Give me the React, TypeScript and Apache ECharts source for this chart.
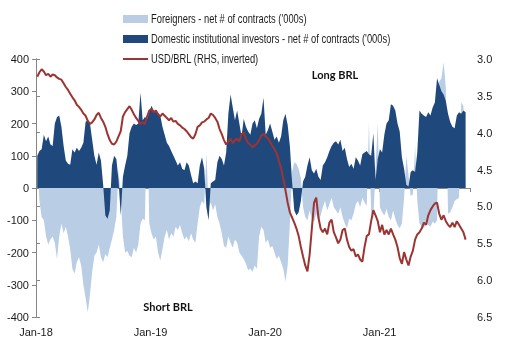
import React, { useEffect, useRef } from "react";
import * as echarts from "echarts";

// days since 1 Jan 2018 of the first weekly observation, and the weekly step
const firstDay = 4;
const stepDays = 7;
const yearLabels = ["Jan-18", "Jan-19", "Jan-20", "Jan-21"];

const seriesNames = [
  "Foreigners - net # of contracts ('000s)",
  "Domestic institutional investors - net # of contracts ('000s)",
  "USD/BRL (RHS, inverted)",
];

const foreigners = [
  100, -40, -90, -100, -150, -175, -160, -150, -170, -220,
  -150, -110, -140, -120, -150, -190, -250, -265, -230, -215,
  -240, -300, -340, -385, -330, -260, -210, -200, -175, -215,
  -230, -205, -215, -185, -160, -130, -90, 60, -30, -150,
  -200, -195, -210, -215, -185, -200, -175, -110, -95, -100,
  240, -110, -140, -160, -150, -200, -225, -190, -150, -130,
  -160, -140, -150, -120, -130, -115, -140, -160, -150, -165,
  -140, -160, -170, -110, -60, -40, -50, 110, -60, -45,
  -70, -50, -90, -110, -140, -180, -185, -150, -170, -185,
  -160, -170, -200, -210, -220, -235, -255, -250, -260, -240,
  -250, -150, -120, -130, -170, -160, -185, -180, -200, -220,
  -210, -230, -250, -290, -240, -110, 50, 80, 75, 60,
  30, -60, -90, -100, -70, -95, -105, -80, -100, -85,
  -60, -40, -70, -50, -30, -60, -70, -80, -60, -90,
  -110, -125, -95, -100, -80, -50, -40, -60, -30, -45,
  -55, 205, -80, -95, 60, 200, -60, -75, -85, -65,
  -90, -100, -70, -95, -115, -125, -110, -30, 100, 40,
  -25, -20, 130, -40, -110, -120, -125, -110, -115, -120,
  -105, -110, -100, 330, 340, 390, 310, -80, -75, -60,
  -40, -35, -30, 265, 255, -15,
];

const domestic = [
  100, 115, 120, 165, 145, 160, 135, 130, 200, 220,
  225, 190, 130, 85, 75, 72, 120, 110, 125, 115,
  125, 140, 205, 212, 200, 150, 100, 72, 110, 85,
  10, -85, -95, -70, 70, 100, 90, 25, -85, 35,
  70, 100, 170, 190, 200, 195, 200, 295, 210, 220,
  215, 235, 255, 240, 235, 230, 225, 190, 165, 140,
  130, 115, 100, 85, 70, 80, 60, 55, 80, 70,
  40, 15, 20, 15, 70, 95, 60, -60, -100, 15,
  20, 25, 80, 100, 90, 70, 110, 230, 290, 250,
  210, 240, 200, 160, 215, 190, 175, 165, 200, 210,
  185, 215, 230, 280, 165, 180, 200, 175, 150, 160,
  140, 160, 210, 230, 195, 130, 20, -70, -85, -75,
  -40, 20, 35, 70, 95, 55, 45, 60, 35, 25,
  70, 80, 95, 115, 130, 140, 145, 135, 150, 115,
  125, 90, 65, 75, 60, 95, 85, 70, 105, 110,
  115, 105, 100, 170, 25, 90, 120, 110, 165, 200,
  210, 260, 255, 240, 200, 175, 95, 60, 10, 5,
  50, 55, 50, 110, 240, 230, 225, 220, 235, 225,
  250, 265, 340, 320, 300, 290, 270, 230, 205, 190,
  185, 225, 235, 230, 240, 235,
];

const usdbrl = [
  3.24, 3.18, 3.14, 3.17, 3.22, 3.2, 3.24, 3.21, 3.22, 3.25,
  3.27, 3.28, 3.33, 3.38, 3.42, 3.47, 3.52, 3.56, 3.62, 3.65,
  3.69, 3.74, 3.77, 3.84, 3.88, 3.86, 3.82, 3.76, 3.73, 3.8,
  3.85, 3.92, 4.02, 4.1, 4.15, 4.16, 4.12, 4.05, 3.98, 3.78,
  3.72, 3.68, 3.64, 3.69, 3.75, 3.8, 3.84, 3.88, 3.86, 3.88,
  3.78, 3.7, 3.68, 3.72, 3.7, 3.75, 3.78, 3.74, 3.77, 3.8,
  3.83, 3.8, 3.85, 3.84, 3.88, 3.9, 3.93, 3.95, 3.98, 4.02,
  4.06, 4.08, 4.02, 3.92, 3.9, 3.86, 3.85, 3.82, 3.8, 3.74,
  3.76, 3.8, 3.85, 3.95, 4.02, 4.1, 4.16, 4.12, 4.08, 4.14,
  4.1, 4.08, 4.12, 4.02, 4.0, 4.08, 4.14, 4.16, 4.2, 4.17,
  4.15, 4.1, 4.04, 4.02, 4.05, 4.08, 4.12, 4.18, 4.22, 4.28,
  4.38, 4.48, 4.62, 4.78, 4.95, 5.08, 5.15, 5.22, 5.3, 5.4,
  5.55, 5.68, 5.8, 5.88, 5.65, 5.3, 4.95, 4.88, 5.15, 5.3,
  5.35, 5.3, 5.38, 5.22, 5.18, 5.35, 5.42, 5.5, 5.45, 5.32,
  5.3, 5.45, 5.55, 5.6, 5.58, 5.68, 5.65, 5.72, 5.75, 5.55,
  5.4, 5.38, 5.2, 5.05, 5.12, 5.2, 5.35, 5.25, 5.38, 5.32,
  5.38, 5.3, 5.38, 5.45, 5.55, 5.7, 5.78, 5.62, 5.72, 5.8,
  5.68, 5.6, 5.45, 5.38, 5.35, 5.3, 5.22, 5.25, 5.12, 5.05,
  5.0, 4.96, 4.95, 5.1, 5.18, 5.12, 5.2, 5.25, 5.28, 5.22,
  5.28, 5.2, 5.25, 5.3, 5.35, 5.45,
];

const LIGHT = "#B9CDE5";
const DARK = "#1F497D";
const RED = "#9C3432";
const AXIS = "#868686";
const TEXT = "#1a1a1a";
const SANS = "'Liberation Sans', Arial, sans-serif";
const BOLD = "Lato, 'Open Sans', sans-serif";

export default function App() {
  const ref = useRef<HTMLDivElement>(null);
  useEffect(() => {
    const chart = echarts.init(ref.current!, null, { renderer: "svg" });
    const days = domestic.map((_, i) => firstDay + stepDays * i);
    const pairs = (arr: number[]) => arr.map((v, i) => [days[i], v]);
    const axisLine = { show: true, lineStyle: { color: AXIS, width: 1 } };
    const axisTick = { show: true, length: 4, lineStyle: { color: AXIS } };
    const legendText = (text: string, y: number) => ({
      type: "text",
      x: 151,
      y,
      scaleX: 0.78,
      z: 10,
      style: { text, fontFamily: SANS, fontSize: 12, fill: TEXT, align: "left", verticalAlign: "middle" },
    });
    chart.setOption({
      animation: false,
      textStyle: { fontFamily: SANS },
      grid: { left: 36, right: 36, top: 59, bottom: 37 },
      xAxis: [
        {
          type: "value",
          min: 0,
          max: 1383,
          interval: 365,
          axisLine: { show: false, onZero: false },
          axisTick: { show: false },
          splitLine: { show: false },
          axisLabel: {
            fontSize: 11,
            color: TEXT,
            margin: 9,
            showMaxLabel: false,
            formatter: (v: number) => {
              const k = Math.round(v / 365);
              return Math.abs(v - k * 365) < 2 && k < yearLabels.length ? yearLabels[k] : "";
            },
          },
        },
        {
          type: "value",
          min: 0,
          max: 1383,
          interval: 365,
          position: "bottom",
          axisLine: { ...axisLine, onZero: true, onZeroAxisIndex: 0 },
          axisTick,
          axisLabel: { show: false },
          splitLine: { show: false },
        },
      ],
      yAxis: [
        {
          type: "value",
          min: -400,
          max: 400,
          interval: 100,
          axisLine,
          axisTick,
          splitLine: { show: false },
          axisLabel: { fontSize: 11, color: TEXT, margin: 7 },
        },
        {
          type: "value",
          inverse: true,
          min: 3,
          max: 6.5,
          interval: 0.5,
          position: "right",
          axisLine,
          axisTick,
          splitLine: { show: false },
          axisLabel: { fontSize: 11, color: TEXT, margin: 7, formatter: (v: number) => v.toFixed(1) },
        },
      ],
      series: [
        {
          name: seriesNames[0],
          type: "line",
          xAxisIndex: 0,
          yAxisIndex: 0,
          data: pairs(foreigners),
          symbol: "none",
          lineStyle: { width: 0, color: LIGHT },
          itemStyle: { color: LIGHT },
          areaStyle: { color: LIGHT, opacity: 1 },
          z: 1,
        },
        {
          name: seriesNames[1],
          type: "line",
          xAxisIndex: 0,
          yAxisIndex: 0,
          data: pairs(domestic),
          symbol: "none",
          lineStyle: { width: 0, color: DARK },
          itemStyle: { color: DARK },
          areaStyle: { color: DARK, opacity: 1 },
          z: 2,
        },
        {
          name: seriesNames[2],
          type: "line",
          xAxisIndex: 0,
          yAxisIndex: 1,
          data: pairs(usdbrl),
          symbol: "none",
          lineStyle: { width: 2, color: RED },
          itemStyle: { color: RED },
          z: 3,
        },
      ],
      graphic: [
        { type: "rect", x: 123, y: 15, z: 10, shape: { width: 25, height: 8 }, style: { fill: LIGHT } },
        legendText(seriesNames[0], 19),
        { type: "rect", x: 123, y: 35, z: 10, shape: { width: 25, height: 8 }, style: { fill: DARK } },
        legendText(seriesNames[1], 39),
        { type: "line", z: 10, shape: { x1: 123, y1: 59, x2: 148, y2: 59 }, style: { stroke: RED, lineWidth: 2 } },
        legendText(seriesNames[2], 59),
        {
          type: "text",
          x: 335,
          y: 74,
          z: 10,
          style: { text: "Long BRL", fontFamily: BOLD, fontWeight: "bold", fontSize: 11, fill: "#111", align: "center", verticalAlign: "middle" },
        },
        {
          type: "text",
          x: 168,
          y: 306,
          z: 10,
          style: { text: "Short BRL", fontFamily: BOLD, fontWeight: "bold", fontSize: 11, fill: "#111", align: "center", verticalAlign: "middle" },
        },
      ],
    });
    return () => chart.dispose();
  }, []);
  return <div ref={ref} style={{ position: "fixed", left: 0, top: 0, width: 506, height: 354 }} />;
}
